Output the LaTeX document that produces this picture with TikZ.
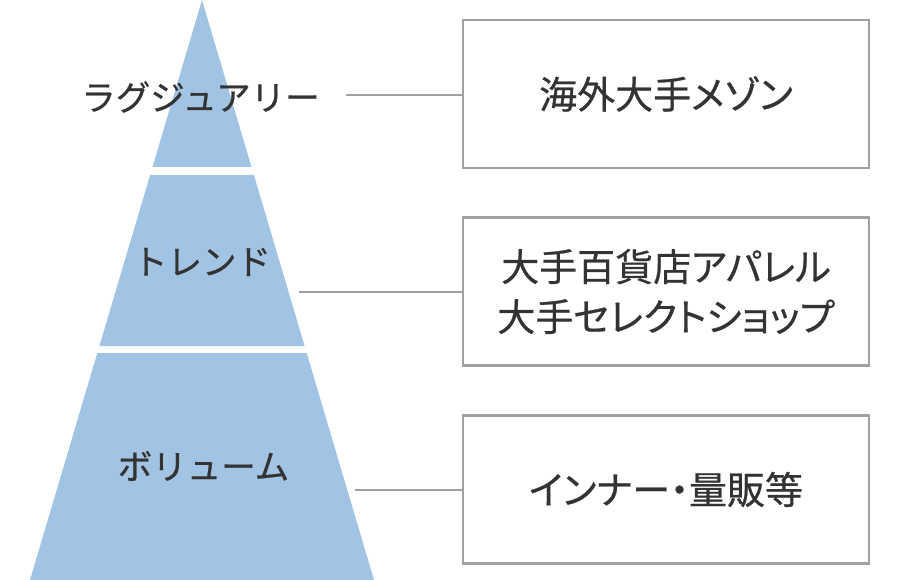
\documentclass[tikz,border=0pt]{standalone}
\usepackage{fontspec}
\newfontfamily\jpfont[FakeBold=0.6]{Noto Sans CJK JP}
\newfontfamily\jpboxfont[FakeBold=0.6,RawFeature=+palt]{Noto Sans CJK JP}
\usetikzlibrary{positioning}
\definecolor{layerblue}{RGB}{162,196,228}
\definecolor{framegray}{RGB}{160,160,160}
\definecolor{textgray}{RGB}{51,51,51}

\begin{document}
\begin{tikzpicture}[%
    x=1pt,
    y=-1pt,
    layer/.style={fill=layerblue, draw=none},
    tier/.style={font=\jpfont\fontsize{34.5}{40}\selectfont, text=textgray},
    brand/.style={draw=framegray, line width=2.5pt, minimum width=406pt,
      minimum height=148pt, inner sep=0pt, align=center,
      font=\jpboxfont\fontsize{38}{50}\selectfont, text=textgray},
    link/.style={draw=framegray, line width=2.5pt}
    ]

    \useasboundingbox (0,0) rectangle (900,580);

    % pyramid
    \fill[layer] (202,0) -- (251.5,167) -- (152.5,167) -- cycle;
    \fill[layer] (150.1,175) -- (253.9,175) -- (304.6,346) -- (99.4,346) -- cycle;
    \fill[layer] (97.3,353) -- (306.7,353) -- (374,580) -- (30,580) -- cycle;

    \node[tier] (lux)   at (200.5,97)  {ラグジュアリー};
    \node[tier] (trend) at (202,262)   {トレンド};
    \node[tier] (vol)   at (203.5,466) {ボリューム};

    % boxes
    \node[brand] (luxbox)   at (666,94)    {海外大手メゾン};
    \node[brand] (trendbox) at (666,291.5) {大手百貨店アパレル\\大手セレクトショップ};
    \node[brand] (volbox)   at (666,489.5) {インナー・量販等};

    \coordinate (lux-end)   at (346,95);
    \coordinate (trend-end) at (299,292);
    \coordinate (vol-end)   at (355,490);

    \path[link] (lux-end) -- (lux-end -| luxbox.west);
    \path[link] (trend-end) -- (trend-end -| trendbox.west);
    \path[link] (vol-end) -- (vol-end -| volbox.west);

\end{tikzpicture}
\end{document}
